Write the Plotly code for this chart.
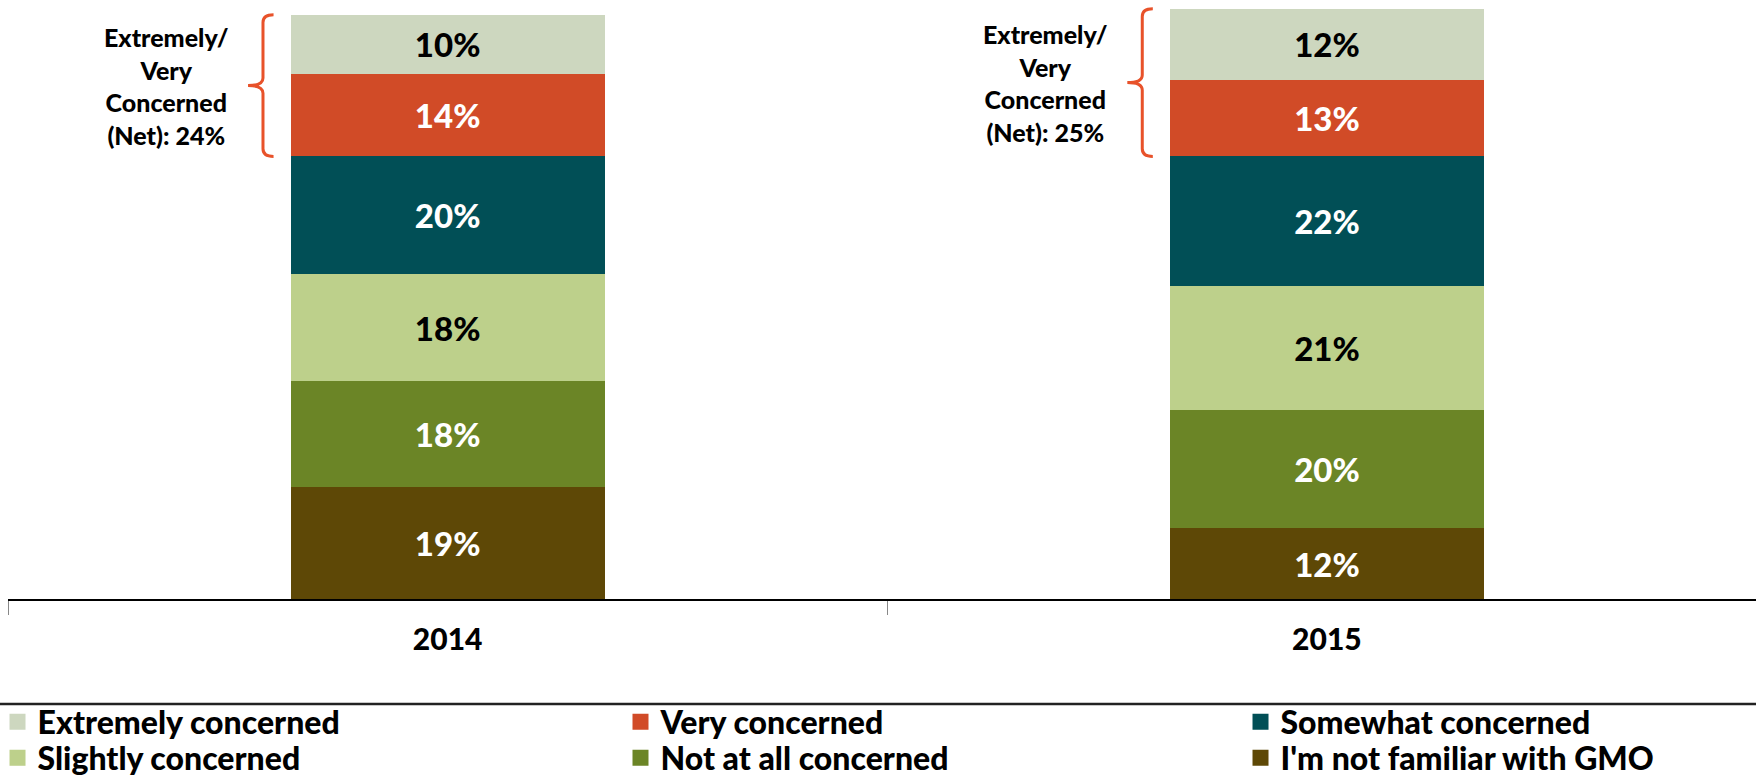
import plotly.graph_objects as go

years = ["2014", "2015"]
series_names = ["I'm not familiar with GMO", "Not at all concerned", "Slightly concerned",
                "Somewhat concerned", "Very concerned", "Extremely concerned"]
not_familiar = [19, 12]
not_at_all = [18, 20]
slightly = [18, 21]
somewhat = [20, 22]
very = [14, 13]
extremely = [10, 12]
net_labels = ["24%", "25%"]

colors = ["#5E4806", "#6B8526", "#BDD08B", "#014F56", "#D14B27", "#CDD7BF"]
text_colors = ["white", "white", "black", "white", "white", "black"]
FONT = "Lato, 'Open Sans', sans-serif"
W = 900

values = [not_familiar, not_at_all, slightly, somewhat, very, extremely]

fig = go.Figure()
for name, vals, col, tcol in zip(series_names, values, colors, text_colors):
    fig.add_trace(go.Bar(
        x=years, y=vals, name=name, showlegend=False,
        marker=dict(color=col, line=dict(width=0)),
        width=0.357,
        text=[f"{v}%" for v in vals],
        textposition="inside", insidetextanchor="middle", textangle=0,
        constraintext="none",
        textfont=dict(family=FONT, size=33, color=tcol, weight=W),
        hoverinfo="skip",
    ))

# legend proxies (square swatches), laid out in a 3 x 2 grid like the original
legend_order = ["Extremely concerned", "Very concerned", "Somewhat concerned",
                "Slightly concerned", "Not at all concerned", "I'm not familiar with GMO"]
col_x = [-0.0060, 0.3504, 0.7051]
row_y = [-0.2053, -0.2654]
legend_layouts = {}
for k, name in enumerate(legend_order):
    idx = series_names.index(name)
    lname = "legend" if k == 0 else f"legend{k+1}"
    fig.add_trace(go.Scatter(
        x=[None], y=[None], mode="markers", name=name, legend=lname,
        marker=dict(symbol="square", size=17, color=colors[idx], line=dict(width=0)),
        showlegend=True, hoverinfo="skip",
    ))
    legend_layouts[lname] = dict(
        x=col_x[k % 3], xanchor="left", y=row_y[k // 3], yanchor="middle",
        bgcolor="rgba(0,0,0,0)", borderwidth=0,
        font=dict(family=FONT, size=32, color="black", weight=W),
        itemclick=False, itemdoubleclick=False, itemwidth=30,
    )

# braces + net annotations
shapes = []
annotations = []
for i, yr in enumerate(years):
    lo = not_familiar[i] + not_at_all[i] + slightly[i] + somewhat[i]
    hi = lo + very[i] + extremely[i]
    mid = (lo + hi) / 2
    xb = i - 0.21
    dx = 0.012
    tip = 0.017
    r = 1.3
    path = (f"M {xb+dx},{hi} Q {xb},{hi} {xb},{hi-r} L {xb},{mid+r} "
            f"Q {xb},{mid} {xb-tip},{mid} Q {xb},{mid} {xb},{mid-r} "
            f"L {xb},{lo+r} Q {xb},{lo} {xb+dx},{lo}")
    shapes.append(dict(type="path", path=path, xref="x", yref="y",
                       line=dict(color="#E8522A", width=3)))
    annotations.append(dict(
        x=i - 0.32, y=mid, xref="x", yref="y", showarrow=False,
        text=f"Extremely/<br>Very<br>Concerned<br>(Net): {net_labels[i]}",
        align="center", xanchor="center", yanchor="middle",
        font=dict(family=FONT, size=25, color="black", weight=W),
    ))

# legend separator line
shapes.append(dict(type="line", xref="paper", yref="paper",
                   x0=-0.01, x1=1.01, y0=-0.1753, y1=-0.1753,
                   line=dict(color="#222222", width=2.5)))

fig.update_layout(
    width=1756, height=776,
    barmode="stack",
    plot_bgcolor="white", paper_bgcolor="white",
    margin=dict(l=8, r=0, t=0, b=177, autoexpand=False),
    shapes=shapes, annotations=annotations,
    showlegend=True,
    xaxis=dict(range=[-0.5, 1.488], showline=True, linecolor="black", linewidth=2,
               ticks="outside", tickson="boundaries", ticklen=14, tickcolor="#888888",
               tickwidth=1, showgrid=False, zeroline=False,
               tickfont=dict(family=FONT, size=30, color="black", weight=W),
               ticklabelstandoff=13),
    yaxis=dict(range=[0, 101.5], visible=False, showgrid=False, zeroline=False),
    **legend_layouts,
)

fig.write_html("out.html")
